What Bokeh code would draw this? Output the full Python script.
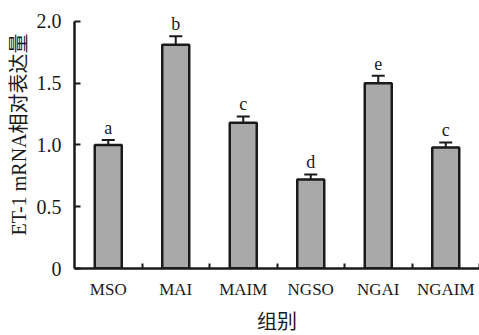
from bokeh.plotting import figure
from bokeh.models import ColumnDataSource, FixedTicker, Whisker, TeeHead
from bokeh.core.properties import value
from bokeh.embed import file_html
from bokeh.resources import INLINE

groups = ["MSO", "MAI", "MAIM", "NGSO", "NGAI", "NGAIM"]
means = [1.00, 1.81, 1.18, 0.72, 1.50, 0.98]
errors = [0.04, 0.07, 0.05, 0.04, 0.06, 0.04]
letters = ["a", "b", "c", "d", "e", "c"]
y_ticks = [0, 0.5, 1.0, 1.5, 2.0]
y_tick_labels = ["0", "0.5", "1.0", "1.5", "2.0"]

FONT = "'Liberation Serif', 'Noto Sans CJK SC'"
INK = "#1a1a1a"

xpos = [i + 0.5 for i in range(len(groups))]
upper = [m + e for m, e in zip(means, errors)]
src = ColumnDataSource(dict(x=xpos, top=means, upper=upper,
                            ly=[u + 0.1 for u in upper], letter=letters))

p = figure(width=479, height=335, x_range=(0, 6), y_range=(0, 2.169),
           output_backend="svg", toolbar_location=None,
           min_border_left=74, min_border_right=0, min_border_top=0, min_border_bottom=65)
p.outline_line_color = None
p.grid.visible = False
p.background_fill_color = "white"

p.vbar(x="x", top="top", width=0.4, bottom=0, source=src,
       fill_color="#a9a9a9", line_color=INK, line_width=2.5)

w = Whisker(base="x", lower="top", upper="upper", source=src,
            line_color=INK, line_width=2,
            upper_head=TeeHead(size=13, line_color=INK, line_width=2),
            lower_head=None)
p.add_layout(w)

p.text(x="x", y="ly", text="letter", source=src, text_align="center",
       text_baseline="middle", text_font=value("Liberation Serif"),
       text_font_size="18px", text_color=INK)

xa = p.xaxis[0]
xa.ticker = FixedTicker(ticks=xpos, minor_ticks=[1, 2, 3, 4, 5, 6])
xa.major_label_overrides = {x: g for x, g in zip(xpos, groups)}
xa.major_tick_in = 0
xa.major_tick_out = 0
xa.minor_tick_in = 5
xa.minor_tick_out = 0
xa.minor_tick_line_width = 2
xa.minor_tick_line_color = INK
xa.axis_line_width = 2.5
xa.axis_line_color = INK
xa.major_label_text_font = FONT
xa.major_label_text_font_size = "17px"
xa.major_label_text_color = INK
xa.major_label_standoff = 11
xa.axis_label = "组别"
xa.axis_label_text_font = FONT
xa.axis_label_text_font_size = "20px"
xa.axis_label_text_font_style = "normal"
xa.axis_label_text_color = INK
xa.axis_label_standoff = 9

ya = p.yaxis[0]
ya.ticker = FixedTicker(ticks=y_ticks, minor_ticks=[])
ya.major_label_overrides = {t: l for t, l in zip(y_ticks, y_tick_labels)}
ya.bounds = (0, 2.0)
ya.major_tick_in = 6
ya.major_tick_out = 0
ya.major_tick_line_width = 2
ya.major_tick_line_color = INK
ya.axis_line_width = 2.5
ya.axis_line_color = INK
ya.major_label_text_font = FONT
ya.major_label_text_font_size = "20px"
ya.major_label_text_color = INK
ya.major_label_standoff = 13
ya.axis_label = "ET-1 mRNA相对表达量"
ya.axis_label_text_font = FONT
ya.axis_label_text_font_size = "20px"
ya.axis_label_text_font_style = "normal"
ya.axis_label_text_color = INK
ya.axis_label_standoff = 4

open("out.html", "w").write(file_html(p, INLINE))
